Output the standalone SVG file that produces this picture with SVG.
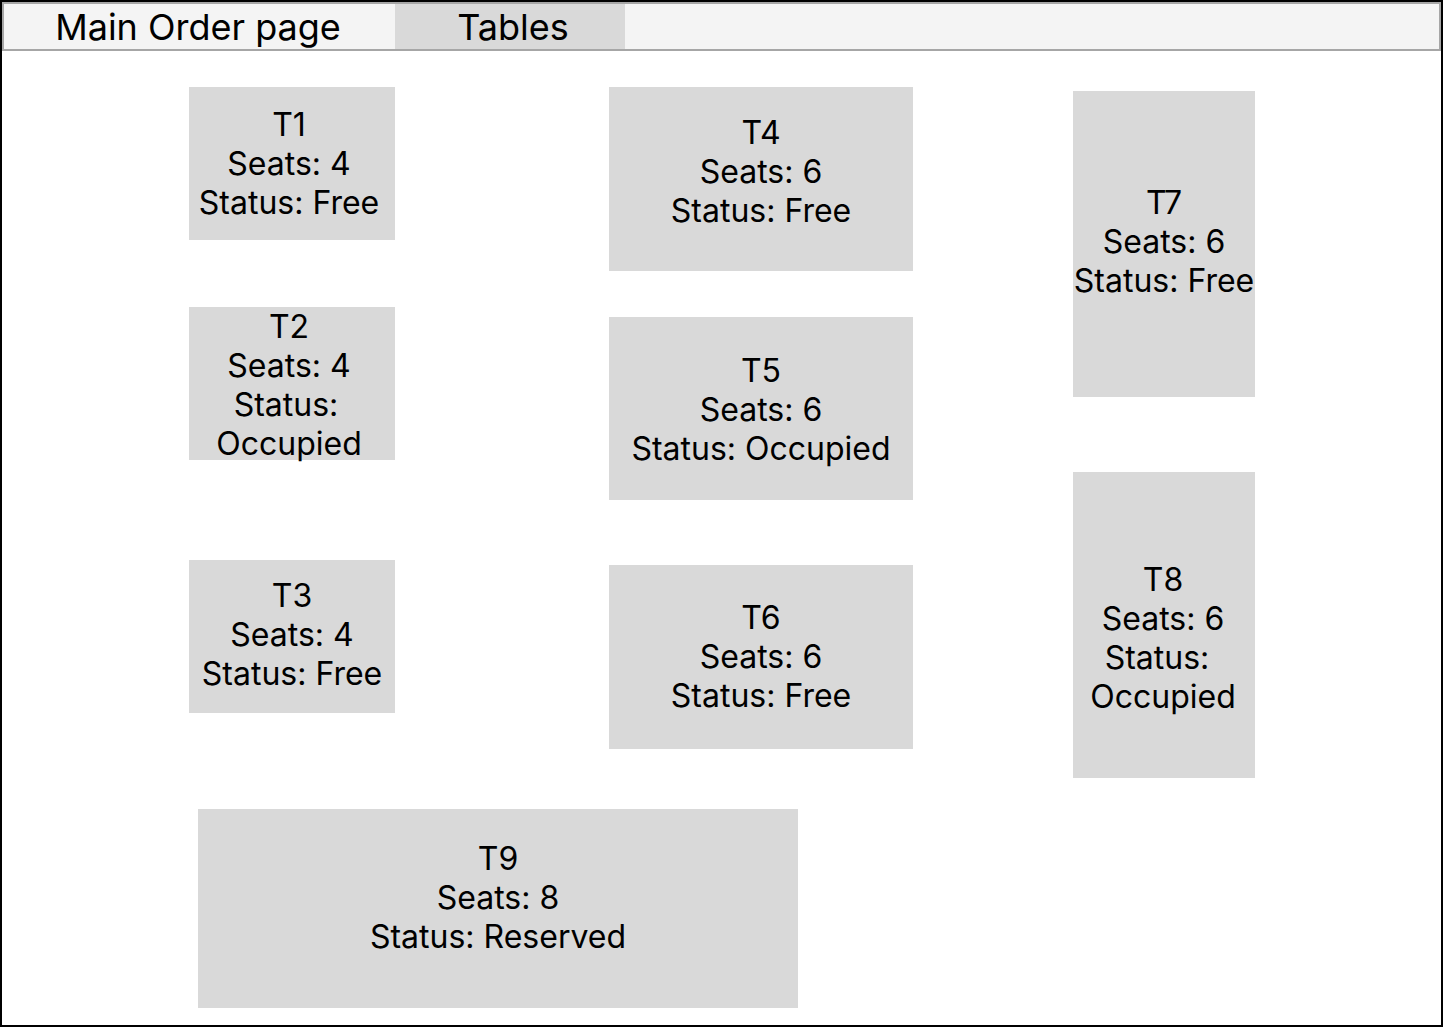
<svg xmlns="http://www.w3.org/2000/svg" width="1444" height="1028" viewBox="0 0 1444 1028">
<style>
.t{fill:#d9d9d9}
text{font-family:Inter,"Liberation Sans",sans-serif;font-size:32px;fill:#000;text-anchor:middle}
.h{font-size:36px}
</style>
<rect x="0" y="0" width="1444" height="1028" fill="#fff"/>
<rect x="1" y="1" width="1441" height="1025" fill="none" stroke="#000" stroke-width="2"/>
<g id="topbar">
<rect x="3" y="3" width="1437" height="47" fill="#f4f4f4" stroke="#a6a6a6" stroke-width="2"/>
<rect x="395" y="4" width="230" height="45" fill="#d9d9d9"/>
<text class="h" x="198" y="40">Main Order page</text>
<text class="h" x="513" y="40">Tables</text>
</g>
<g id="T1"><rect class="t" x="189" y="87" width="206" height="153"/><text x="289" y="136">T1</text><text x="289" y="175">Seats: 4</text><text x="289" y="214">Status: Free</text></g>
<g id="T2"><rect class="t" x="189" y="307" width="206" height="153"/><text x="289" y="338">T2</text><text x="289" y="377">Seats: 4</text><text x="286" y="416">Status:</text><text x="289" y="455">Occupied</text></g>
<g id="T3"><rect class="t" x="189" y="560" width="206" height="153"/><text x="292" y="607">T3</text><text x="292" y="646">Seats: 4</text><text x="292" y="685">Status: Free</text></g>
<g id="T4"><rect class="t" x="609" y="87" width="304" height="184"/><text x="761" y="144">T4</text><text x="761" y="183">Seats: 6</text><text x="761" y="222">Status: Free</text></g>
<g id="T5"><rect class="t" x="609" y="317" width="304" height="183"/><text x="761" y="382">T5</text><text x="761" y="421">Seats: 6</text><text x="761" y="460">Status: Occupied</text></g>
<g id="T6"><rect class="t" x="609" y="565" width="304" height="184"/><text x="761" y="629">T6</text><text x="761" y="668">Seats: 6</text><text x="761" y="707">Status: Free</text></g>
<g id="T7"><rect class="t" x="1073" y="91" width="182" height="306"/><text x="1164" y="214">T7</text><text x="1164" y="253">Seats: 6</text><text x="1164" y="292">Status: Free</text></g>
<g id="T8"><rect class="t" x="1073" y="472" width="182" height="306"/><text x="1163" y="591">T8</text><text x="1163" y="630">Seats: 6</text><text x="1157" y="669">Status:</text><text x="1163" y="708">Occupied</text></g>
<g id="T9"><rect class="t" x="198" y="809" width="600" height="199"/><text x="498" y="870">T9</text><text x="498" y="909">Seats: 8</text><text x="498" y="948">Status: Reserved</text></g>
<g id="connectors"></g>
</svg>
